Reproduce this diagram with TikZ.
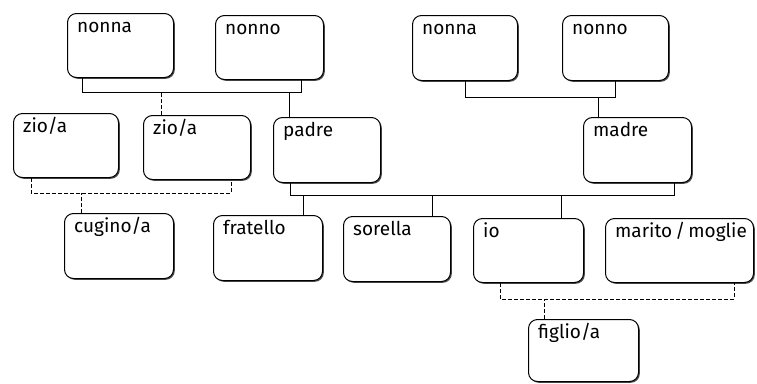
\documentclass[tikz,border=0pt]{standalone}
\usepackage{fontspec}
\setmainfont{Fira Sans}
\usetikzlibrary{shadows}
\tikzset{
  box/.style={draw=black, line width=1pt, rounded corners=9pt, fill=white,
    anchor=north west, inner sep=0pt, minimum height=64pt,
    drop shadow={shadow xshift=1.3pt, shadow yshift=-1.3pt, fill=black!70, opacity=1}},
  lbl/.style={anchor=base west, xshift=10pt, yshift=-19pt, inner sep=0pt,
    font=\fontsize{19}{21}\selectfont},
  conn/.style={draw=black, line width=1pt},
  dconn/.style={draw=black, line width=1pt, dash pattern=on 4pt off 2pt},
}
\begin{document}
\begin{tikzpicture}[x=1pt, y=-1pt]
\useasboundingbox (0,0) rectangle (757,383);
% boxes
\node[box, minimum width=106pt, label={[lbl]north west:nonna}] (nonna1) at (67,13) {};
\node[box, minimum width=108pt, label={[lbl]north west:nonno}] (nonno1) at (215,15) {};
\node[box, minimum width=105pt, label={[lbl]north west:zio/a}] (zio1) at (13,113) {};
\node[box, minimum width=107pt, label={[lbl]north west:zio/a}] (zio2) at (143,115) {};
\node[box, minimum width=107pt, minimum height=65pt, label={[lbl]north west:padre}] (padre) at (273,117) {};
\node[box, minimum width=105pt, minimum height=65pt, label={[lbl]north west:nonna}] (nonna2) at (412,15) {};
\node[box, minimum width=106pt, minimum height=65pt, label={[lbl]north west:nonno}] (nonno2) at (562,15) {};
\node[box, minimum width=108pt, minimum height=65pt, label={[lbl]north west:madre}] (madre) at (583,117) {};
\node[box, minimum width=109pt, minimum height=65pt, label={[lbl]north west:cugino/a}] (cugino) at (64,213) {};
\node[box, minimum width=109pt, minimum height=65pt, label={[lbl]north west:fratello}] (fratello) at (213,215) {};
\node[box, minimum width=107pt, minimum height=65pt, label={[lbl]north west:sorella}] (sorella) at (343,216) {};
\node[box, minimum width=110pt, label={[lbl]north west:io}] (io) at (473,218) {};
\node[box, minimum width=148pt, label={[lbl]north west:marito\,/\,moglie}] (marito) at (605,218) {};
\node[box, minimum width=110pt, minimum height=62pt, label={[lbl]north west:figlio/a}] (figlio) at (528,319) {};
% bar levels
\coordinate (bar1) at (0,92);
\coordinate (bar2) at (0,97);
\coordinate (barz) at (0,193);
\coordinate (barp) at (0,195);
\coordinate (bario) at (0,299);
% attachment points
\coordinate (n1b) at ([xshift=15pt]nonna1.south west);
\coordinate (o1b) at ([xshift=-23pt]nonno1.south east);
\coordinate (z2t) at ([xshift=18pt]zio2.north west);
\coordinate (pat) at ([xshift=16pt]padre.north west);
\coordinate (z1b) at ([xshift=18pt]zio1.south west);
\coordinate (z2b) at ([xshift=-20pt]zio2.south east);
\coordinate (cut) at ([xshift=17pt]cugino.north west);
\coordinate (pab) at ([xshift=17pt]padre.south west);
\coordinate (mab) at ([xshift=-18pt]madre.south east);
\coordinate (frt) at ([xshift=-20pt]fratello.north east);
\coordinate (sot) at ([xshift=-19pt]sorella.north east);
\coordinate (iot) at ([xshift=-23pt]io.north east);
\coordinate (mat) at ([xshift=15pt]madre.north west);
\coordinate (iob) at ([xshift=27pt]io.south west);
\coordinate (mob) at ([xshift=-20pt]marito.south east);
\coordinate (fit) at ([xshift=16pt]figlio.north west);
% connectors
\draw[conn] (n1b) -- (n1b |- bar1) -| (o1b);
\draw[dconn] (z2t) -- (z2t |- bar1);
\draw[conn] (pat) -- (pat |- bar1);
\draw[dconn] (z1b) -- (z1b |- barz) -| (z2b);
\draw[dconn] (cut) -- (cut |- barz);
\draw[conn] (nonna2.south) -- (nonna2.south |- bar2) -| (nonno2.south);
\draw[conn] (mat) -- (mat |- bar2);
\draw[conn] (pab) -- (pab |- barp) -| (mab);
\draw[conn] (frt) -- (frt |- barp);
\draw[conn] (sot) -- (sot |- barp);
\draw[conn] (iot) -- (iot |- barp);
\draw[dconn] (iob) -- (iob |- bario) -| (mob);
\draw[dconn] (fit) -- (fit |- bario);
\end{tikzpicture}
\end{document}
